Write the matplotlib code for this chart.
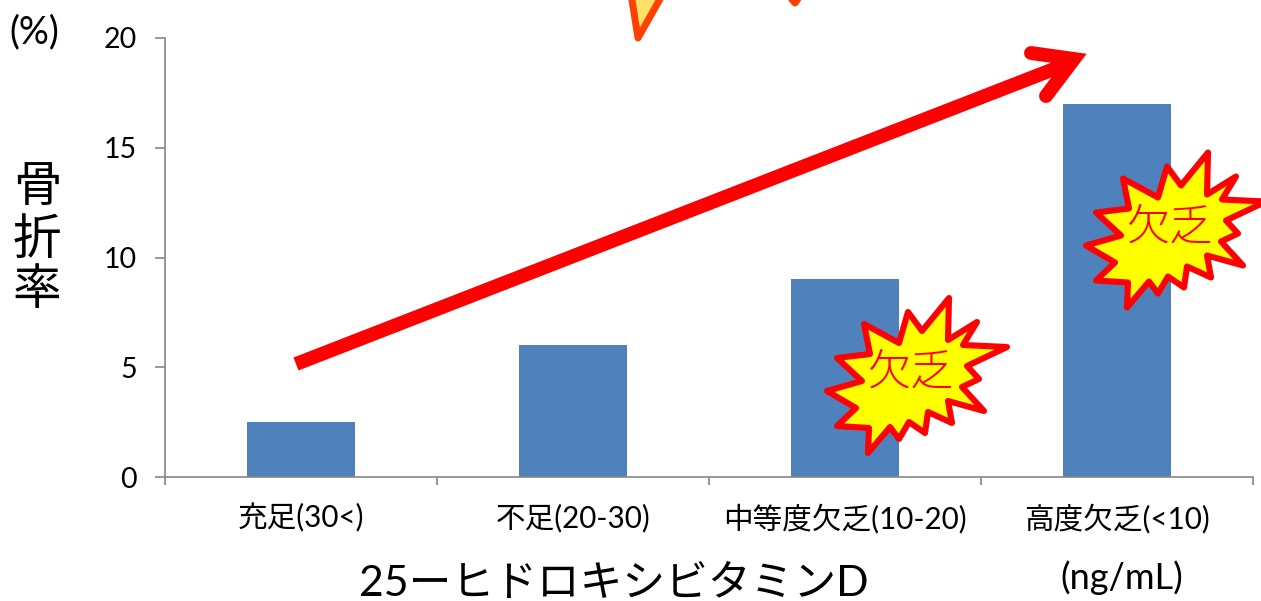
import matplotlib
matplotlib.use("Agg")
import matplotlib.pyplot as plt
from matplotlib.patches import Polygon

plt.rcParams['font.family'] = ['Lato', 'Noto Sans CJK JP', 'DejaVu Sans']

W, H = 1261, 601

categories = ['充足(30<)', '不足(20-30)', '中等度欠乏(10-20)', '高度欠乏(<10)']
fracture_rate = [2.5, 6, 9, 17]
y_ticks = [0, 5, 10, 15, 20]

# burst outline, px offsets from its top left corner
burst = [(139, 18), (138, 60), (167, 42), (153, 65), (197, 67), (157, 86), (169, 99),
         (152, 107), (174, 131), (138, 121), (142, 143), (118, 132), (115, 153),
         (99, 142), (89, 159), (80, 147), (58, 173), (59, 148), (27, 146), (46, 128),
         (17, 111), (52, 101), (27, 78), (60, 74), (54, 44), (89, 63), (98, 32), (112, 51)]
burst_positions = [(810, 280), (1069, 134.5)]

fig = plt.figure(figsize=(W / 100, H / 100), dpi=100)

ax = fig.add_axes([165 / W, 1 - 477 / H, (1253 - 165) / W, (477 - 38) / H])
ax.bar(range(4), fracture_rate, width=0.4, color='#4F81BD')
ax.set_xlim(-0.5, 3.5)
ax.set_ylim(0, 20)
ax.set_yticks(y_ticks)
ax.set_xticks(range(4))
ax.set_xticklabels(categories, fontsize=21.3)
ax.set_xticks([-0.5, 0.5, 1.5, 2.5, 3.5], minor=True)
ax.tick_params(axis='x', which='major', length=0, pad=19, colors='black')
ax.tick_params(axis='x', which='minor', length=6, width=1.2, color='#868686')
ax.tick_params(axis='y', length=7, width=1.2, color='#868686', labelsize=20.5, pad=13)
ax.spines['top'].set_visible(False)
ax.spines['right'].set_visible(False)
ax.spines['left'].set_color('#868686')
ax.spines['bottom'].set_color('#868686')
ax.spines['left'].set_linewidth(1.2)
ax.spines['bottom'].set_linewidth(1.2)

# overlay in pixel coords for the drawn shapes and loose labels
ov = fig.add_axes([0, 0, 1, 1], facecolor='none')
ov.set_xlim(0, W)
ov.set_ylim(H, 0)
ov.axis('off')

# orange fragments cut off by the top edge
ov.add_patch(Polygon([(631, -6), (638, 38), (664, -8)], closed=True, fc='#FFE066',
                     ec='#FF4000', lw=5, joinstyle='round'))
ov.plot([787, 795, 803], [-6, 3, -8], color='#FF4000', lw=5, solid_capstyle='round',
        solid_joinstyle='round')

# big arrow
ov.plot([296, 1072], [364, 62], color='#FF0000', lw=10, solid_capstyle='butt')
ov.plot([1031, 1074, 1046], [53, 59, 96], color='#FF0000', lw=10, solid_capstyle='round',
        solid_joinstyle='miter')

for bx, by in burst_positions:
    pts = [(bx + px, by + py) for px, py in burst]
    ov.add_patch(Polygon(pts, closed=True, fc='#FFFF00', ec='#FF0000', lw=4.4, joinstyle='round'))
    ov.text(bx + 101, by + 93, '欠乏', color='#FF0000', fontsize=31, ha='center', va='center',
            fontweight='light')

ov.text(34, 32, '(%)', fontsize=27, ha='center', va='center')
for label, y in zip('骨折率', [187, 240, 290]):
    ov.text(37, y, label, fontsize=35, ha='center', va='center')
ov.text(614, 584, '25ーヒドロキシビタミンD', fontsize=30.8, ha='center', va='center')
ov.text(1122, 578, '(ng/mL)', fontsize=26, ha='center', va='center')

fig.savefig('out.png', dpi=100)
